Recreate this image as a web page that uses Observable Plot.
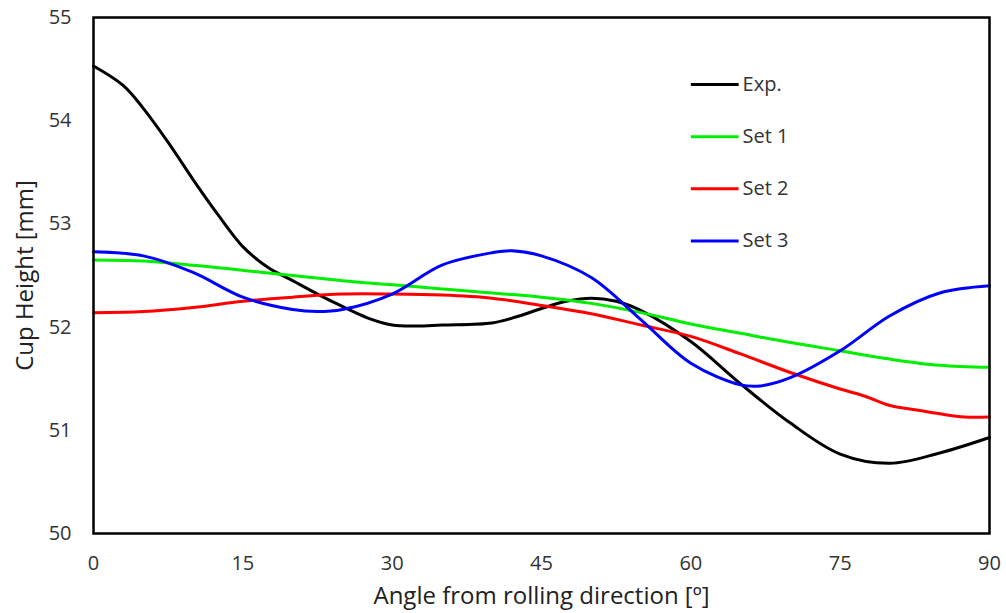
<!DOCTYPE html>
<html>
<head>
<meta charset="utf-8">
<script src="https://cdn.jsdelivr.net/npm/d3@7"></script>
<script src="https://cdn.jsdelivr.net/npm/@observablehq/plot@0.6"></script>
<style>
  html, body { margin: 0; padding: 0; background: #fff; }
  #chart { width: 1006px; height: 613px; }
</style>
</head>
<body>
<div id="chart"></div>
<script>
const seriesNames = ["Exp.", "Set 1", "Set 2", "Set 3"];
const seriesColors = ["#000000", "#00ee00", "#ff0000", "#0000ff"];

const expAngle = [0, 3, 5, 7.5, 10, 12.5, 15, 17.5, 20, 22.5, 25, 27.5, 30, 32.5, 35, 40, 42.5, 45, 47.5, 50, 52.5, 55, 60, 65, 70, 75, 80, 85, 90];
const expHeight = [54.53, 54.34, 54.12, 53.79, 53.43, 53.09, 52.78, 52.58, 52.45, 52.32, 52.2, 52.09, 52.02, 52.01, 52.02, 52.04, 52.1, 52.18, 52.25, 52.28, 52.25, 52.16, 51.86, 51.45, 51.07, 50.77, 50.68, 50.78, 50.93];

const set1Angle = [0, 5, 10, 15, 20, 25, 30, 35, 40, 45, 50, 55, 60, 65, 70, 75, 80, 85, 90];
const set1Height = [52.65, 52.64, 52.6, 52.55, 52.5, 52.45, 52.41, 52.37, 52.33, 52.29, 52.23, 52.14, 52.03, 51.94, 51.85, 51.77, 51.69, 51.63, 51.61];

const set2Angle = [0, 5, 10, 15, 20, 25, 30, 35, 40, 45, 50, 55, 60, 65, 70, 75, 77.5, 80, 82.5, 85, 87.5, 90];
const set2Height = [52.14, 52.15, 52.19, 52.25, 52.29, 52.32, 52.32, 52.31, 52.28, 52.21, 52.13, 52.02, 51.91, 51.74, 51.56, 51.4, 51.33, 51.24, 51.2, 51.16, 51.13, 51.13];

const set3Angle = [0, 5, 10, 15, 20, 22.5, 25, 30, 35, 40, 42, 45, 50, 55, 60, 65, 67, 70, 75, 80, 85, 90];
const set3Height = [52.73, 52.69, 52.53, 52.29, 52.17, 52.15, 52.17, 52.32, 52.6, 52.72, 52.74, 52.69, 52.48, 52.07, 51.65, 51.44, 51.43, 51.51, 51.77, 52.11, 52.33, 52.4];

const xTicks = [0, 15, 30, 45, 60, 75, 90];
const yTicks = [50, 51, 52, 53, 54, 55];
const xLabel = "Angle from rolling direction [º]";
const yLabel = "Cup Height [mm]";

const angles = [expAngle, set1Angle, set2Angle, set3Angle];
const heights = [expHeight, set1Height, set2Height, set3Height];

const rows = [];
seriesNames.forEach((name, i) => {
  angles[i].forEach((a, j) => rows.push({series: name, angle: a, height: heights[i][j]}));
});

const legendRows = seriesNames.map((name, i) => ({
  series: name,
  y: 54.35 - i * 0.505
}));

const font = "'Open Sans', Lato, sans-serif";
const chart = Plot.plot({
  width: 1006,
  height: 613,
  marginLeft: 93,
  marginRight: 17,
  marginTop: 17,
  marginBottom: 80,
  style: {fontSize: "20px", fontFamily: font, color: "#333", background: "#fff"},
  x: {domain: [0, 90], ticks: xTicks, tickSize: 0, tickPadding: 22, label: null},
  y: {domain: [50, 55], ticks: yTicks, tickSize: 0, tickPadding: 22, tickFormat: d3.format("d"), label: null},
  color: {domain: seriesNames, range: seriesColors},
  marks: [
    Plot.lineY(rows, {x: "angle", y: "height", stroke: "series", z: "series", strokeWidth: 3, curve: "catmull-rom"}),
    Plot.link(legendRows, {x1: 60, x2: 64.8, y1: "y", y2: "y", stroke: "series", strokeWidth: 3}),
    Plot.text(legendRows, {x: 65.2, y: "y", text: "series", textAnchor: "start", fontSize: 20, fill: "#333"}),
    Plot.text([xLabel], {text: d => d, frameAnchor: "bottom", dy: 70, fontSize: 24, fill: "#222"}),
    Plot.text([yLabel], {text: d => d, frameAnchor: "left", textAnchor: "middle", dx: -68, rotate: -90, fontSize: 24, fill: "#222"}),
    Plot.frame({stroke: "#000", strokeWidth: 2.5})
  ]
});
document.getElementById("chart").appendChild(chart);
</script>
</body>
</html>
